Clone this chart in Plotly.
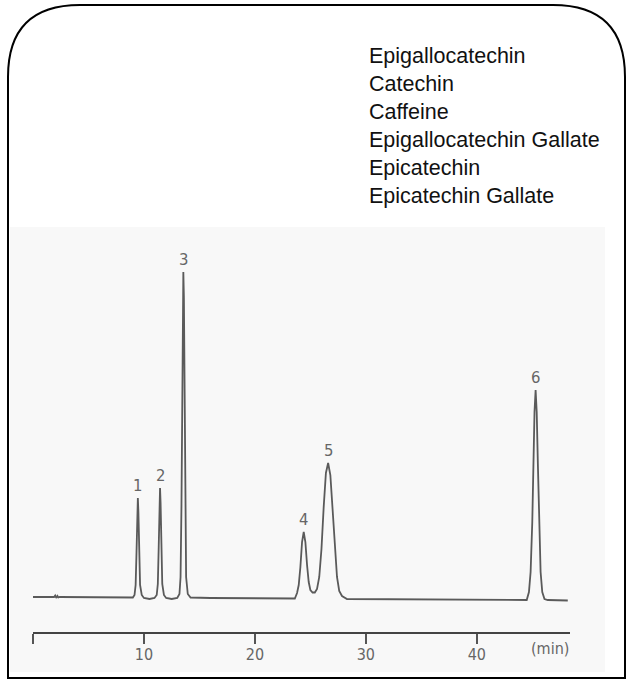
import plotly.graph_objects as go

# ---- data ----
compounds = ["Epigallocatechin", "Catechin", "Caffeine",
             "Epigallocatechin Gallate", "Epicatechin", "Epicatechin Gallate"]

# retention time (min) and detector signal (arbitrary units) of the trace
time_min = [0, 1.9, 2.0, 2.1, 2.2, 2.3, 2.4, 5.0, 9.0,
            9.15, 9.25, 9.33, 9.4, 9.45, 9.5, 9.57, 9.65, 9.8, 10.0, 10.5, 10.95,
            11.15, 11.25, 11.33, 11.4, 11.45, 11.5, 11.57, 11.65, 11.8, 12.0, 12.5, 13.0,
            13.2, 13.3, 13.38, 13.45, 13.5, 13.55, 13.6, 13.65, 13.72, 13.8, 13.95, 14.2,
            16.0, 20.0, 23.6,
            23.8, 23.95, 24.1, 24.25, 24.4, 24.55, 24.7, 24.85, 25.0, 25.2, 25.4,
            25.6, 25.8, 26.0, 26.2, 26.4, 26.6, 26.8, 27.0, 27.2, 27.4, 27.6, 27.85, 28.3,
            35.0, 44.5,
            44.7, 44.85, 45.0, 45.1, 45.2, 45.3, 45.4, 45.5, 45.6, 45.75, 45.9, 46.1, 46.4, 48.2]
signal = [0, 0, 1.5, -1, 1, -0.5, 0, 0, -0.5,
          2, 12, 45, 85, 99, 85, 45, 12, 2, -1, -2, -1,
          2, 13, 50, 94, 109, 94, 50, 13, 2, -1, -2, -1,
          3, 20, 90, 220, 300, 325, 300, 220, 90, 20, 3, -0.5,
          -1, -1.5, -1.5,
          4, 12, 30, 55, 65, 55, 32, 15, 7, 4.5, 4.5,
          8, 20, 48, 90, 124, 134, 122, 88, 48, 20, 6, 1, -2,
          -2.5, -3,
          5, 25, 75, 135, 185, 207, 185, 135, 75, 25, 5, -2, -3, -3.5]

peak_numbers = ["1", "2", "3", "4", "5", "6"]
peak_times = [9.45, 11.45, 13.55, 24.4, 26.6, 45.3]
peak_heights = [99, 109, 325, 65, 134, 207]

tick_values = [0, 10, 20, 30, 40]
tick_labels = ["", "10", "20", "30", "40"]
unit_label = "(min)"

# ---- layout geometry (pixels) ----
W, H = 632, 686
L, R, T, B = 33, 62, 232, 54
PW, PH = W - L - R, H - T - B


def px(xp):
    return (xp - L) / PW


def py(yp):
    return (H - B - yp) / PH


narrow = "Liberation Sans Narrow, DejaVu Sans Condensed, Roboto Condensed, Arial Narrow, sans-serif"
grey_txt = "#666666"

fig = go.Figure()
fig.add_trace(go.Scatter(x=time_min, y=signal, mode="lines",
                         line=dict(color="#5a5a5a", width=1.8),
                         hoverinfo="skip", showlegend=False))

annotations = []
for n, t, h in zip(peak_numbers, peak_times, peak_heights):
    annotations.append(dict(x=t, y=h, xref="x", yref="y", text=n, showarrow=False,
                            yanchor="middle", yshift=13,
                            font=dict(family=narrow, size=16.5, color=grey_txt)))
annotations.append(dict(x=46.6, y=0, xref="x", yref="paper", text=unit_label,
                        showarrow=False, yanchor="middle", yshift=-16,
                        font=dict(family=narrow, size=16, color=grey_txt)))
annotations.append(dict(x=px(367), y=py(42), xref="paper", yref="paper",
                        text="<br>".join(compounds), showarrow=False,
                        xanchor="left", yanchor="top", align="left",
                        font=dict(family="Liberation Sans, Arial, sans-serif",
                                  size=21.5, color="#111111")))

x0, x1, y0, y1 = 8, 625, 5, 678
r = 72
frame_path = (f"M {px(x0)},{py(y1)} L {px(x0)},{py(y0 + r)} "
              f"Q {px(x0)},{py(y0)} {px(x0 + r)},{py(y0)} "
              f"L {px(x1 - r)},{py(y0)} "
              f"Q {px(x1)},{py(y0)} {px(x1)},{py(y0 + r)} "
              f"L {px(x1)},{py(y1)} Z")

shapes = [
    dict(type="rect", xref="paper", yref="paper", layer="below",
         x0=px(10), x1=px(605), y0=py(672), y1=py(227),
         fillcolor="#f8f8f8", line=dict(width=0)),
    dict(type="path", xref="paper", yref="paper", layer="above",
         path=frame_path, line=dict(color="#000000", width=2)),
]

fig.update_layout(
    width=W, height=H,
    margin=dict(l=L, r=R, t=T, b=B, pad=0),
    paper_bgcolor="white", plot_bgcolor="rgba(0,0,0,0)",
    showlegend=False,
    annotations=annotations, shapes=shapes,
    xaxis=dict(range=[0, 48.4], showgrid=False, zeroline=False,
               showline=True, linecolor="#444444", linewidth=2,
               ticks="outside", ticklen=10, tickwidth=1.5, tickcolor="#555555",
               tickvals=tick_values, ticktext=tick_labels,
               ticklabelstandoff=-3,
               tickfont=dict(family=narrow, size=16, color=grey_txt),
               fixedrange=True),
    yaxis=dict(range=[-35, 365], visible=False, fixedrange=True),
)

fig.write_html("out.html", config={"displayModeBar": False},
               post_script="document.body.style.margin='0';")
